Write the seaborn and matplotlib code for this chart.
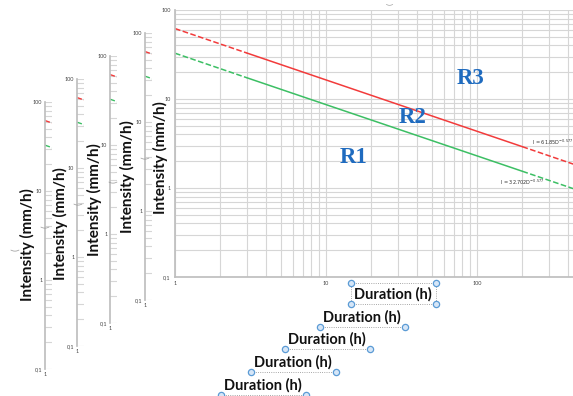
import matplotlib
matplotlib.use("Agg")
import numpy as np
import pandas as pd
import matplotlib.pyplot as plt
import seaborn as sns

W, H = 573, 396

# intensity-duration curves
durations = [1, 3, 200, 500]
red_intensity = [61.85, 32.8, 2.91, 1.71]
green_intensity = [32.70, 17.3, 1.54, 0.906]
red_label = "I = 61.85D$^{-0.577}$"
green_label = "I = 32.702D$^{-0.577}$"
region_names = ["R1", "R2", "R3"]
region_dur = [15.3, 37.7, 91.0]
region_int = [2.2, 6.2, 17.1]
y_ticks = [0.1, 1, 10, 100]
y_ticklabels = ["0,1", "1", "10", "100"]
x_ticks = [1, 10, 100]
x_ticklabels = ["1", "10", "100"]

RED = "#f23b3b"
GREEN = "#3cbf64"
BLUE = "#1f6bbf"
GRID = "#d6d6d6"
SPINE = "#bfbfbf"

sns.set_theme(style="white")
plt.rcParams["font.family"] = ["Lato", "DejaVu Sans"]


def rect(x0, y0, x1, y1):
    return [x0 / W, 1 - y1 / H, (x1 - x0) / W, (y1 - y0) / H]


def draw_curves(ax, lw=1.1):
    segs = [(0, 2, "--"), (1, 3, "-"), (2, 4, "--")]
    for a, b, ls in segs:
        for vals, col in [(red_intensity, RED), (green_intensity, GREEN)]:
            df = pd.DataFrame({"D": durations[a:b], "I": vals[a:b]})
            kw = dict(dashes=(4, 2.5)) if ls == "--" else {}
            sns.lineplot(data=df, x="D", y="I", ax=ax, color=col, lw=lw,
                         linestyle=ls, **kw)


fig = plt.figure(figsize=(W / 100, H / 100), dpi=100)

# earlier animation frames, mostly hidden behind the last one
frames = [(45, 102, 369), (77, 79, 346), (110, 56, 323), (145, 33, 300)]
for i, (fx, ftop, fbot) in enumerate(frames):
    fa = fig.add_axes(rect(fx, ftop, fx + 7, fbot), zorder=i)
    fa.set_facecolor("none")
    fa.set_xscale("log")
    fa.set_yscale("log")
    draw_curves(fa, lw=1.0)
    fa.set_xlim(1, 10 ** (7 / 151))
    fa.set_ylim(0.1, 100)
    fa.yaxis.grid(True, which="both", color=GRID, lw=0.8)
    fa.set_yticks(y_ticks)
    fa.set_yticklabels(y_ticklabels)
    fa.yaxis.set_minor_formatter(plt.NullFormatter())
    fa.set_xticks([1])
    fa.set_xticklabels(["1"])
    fa.xaxis.set_minor_locator(plt.NullLocator())
    fa.tick_params(which="both", length=0, labelsize=4, colors="#444444", pad=2)
    fa.set_xlabel("")
    fa.set_ylabel("")
    for s in ["top", "right", "bottom"]:
        fa.spines[s].set_visible(False)
    fa.spines["left"].set_color(SPINE)

# final frame
ax = fig.add_axes(rect(175, 10, 573, 277), zorder=10)
ax.set_facecolor("white")
ax.set_xscale("log")
ax.set_yscale("log")
draw_curves(ax)
ax.set_xlim(1, 10 ** (398 / 151))
ax.set_ylim(0.1, 100)
ax.grid(True, which="both", color=GRID, lw=0.8)
ax.set_axisbelow(True)
ax.set_yticks(y_ticks)
ax.set_yticklabels(y_ticklabels)
ax.set_xticks(x_ticks)
ax.set_xticklabels(x_ticklabels)
ax.xaxis.set_minor_formatter(plt.NullFormatter())
ax.yaxis.set_minor_formatter(plt.NullFormatter())
ax.tick_params(which="both", length=0, labelsize=4, colors="#444444", pad=3)
ax.set_xlabel("")
ax.set_ylabel("")
for s in ["top", "right"]:
    ax.spines[s].set_visible(False)
for s in ["left", "bottom"]:
    ax.spines[s].set_color(SPINE)

ax.text(231, 3.25, red_label, fontsize=3.6, color="#333333", va="center",
        family=["DejaVu Sans"])
ax.text(142, 1.15, green_label, fontsize=3.6, color="#333333", va="center",
        family=["DejaVu Sans"])
for name, d, v in zip(region_names, region_dur, region_int):
    ax.text(d, v, name, color=BLUE, fontsize=16.5, fontweight="bold",
            family=["Liberation Serif"], ha="center", va="center")

# overlay in pixel coords for the slide decorations
ov = fig.add_axes([0, 0, 1, 1], zorder=20)
ov.set_xlim(0, W)
ov.set_ylim(H, 0)
ov.axis("off")

ylab_pos = [(27, 245), (60, 224), (94, 200), (127, 177), (160, 158)]
for x, y in ylab_pos:
    ov.text(x, y, "Intensity (mm/h)", rotation=90, ha="center", va="center",
            fontsize=11, fontweight="bold", color="#111111")
handle_pos = [(16, 250), (46, 227), (79, 204), (114, 182), (146, 158)]
for x, y in handle_pos:
    ov.text(x, y, "(", rotation=90, ha="center", va="center", fontsize=7,
            color="#9a9a9a")
ov.text(390, 4, "(", rotation=90, ha="center", va="center", fontsize=6,
        color="#9a9a9a")

xlab_pos = [(263, 385), (293, 362), (327, 339), (362, 317), (393, 294)]
for k, (x, y) in enumerate(xlab_pos):
    ov.text(x, y, "Duration (h)", ha="center", va="center", fontsize=10.5,
            fontweight="bold", color="#111111")
    x0, x1 = x - 42, x + 43
    y1 = y + 10
    if k == len(xlab_pos) - 1:
        y0 = y - 11
        ov.plot([x0, x1, x1, x0, x0], [y0, y0, y1, y1, y0], ls=":",
                color="#8a8a8a", lw=0.6)
        hx, hy = [x0, x1, x0, x1], [y0, y0, y1, y1]
    else:
        ov.plot([x0, x1], [y1, y1], ls=":", color="#8a8a8a", lw=0.6)
        hx, hy = [x0, x1], [y1, y1]
    ov.plot(hx, hy, "o", ms=4.5, mfc="#d6e6f7", mec="#5b9bd5", mew=0.9)

fig.savefig("out.png", dpi=100)
